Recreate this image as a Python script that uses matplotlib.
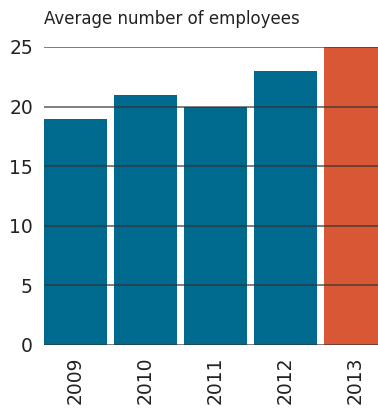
import matplotlib.pyplot as plt

years = ["2009", "2010", "2011", "2012", "2013"]
employees = [19, 21, 20, 23, 25]
colors = ["#006a8e", "#006a8e", "#006a8e", "#006a8e", "#d85735"]
yticks = [0, 5, 10, 15, 20, 25]

fig = plt.figure(figsize=(3.78, 4.08), dpi=100)
ax = fig.add_axes([44/378, 1 - 345/408, 1 - 44/378, (345 - 47)/408])

x = list(range(len(years)))
ax.bar(x, employees, width=0.9, color=colors, zorder=1)

# gridlines sit on top of the bars
for v in yticks:
    ax.axhline(v, color="#333333", lw=1.1, alpha=0.8, zorder=3)

ax.set_xlim(-0.45, 4.32)
ax.set_ylim(0, 25)
ax.set_yticks(yticks)
ax.set_yticklabels([str(v) for v in yticks], fontsize=13.5, color="#222222")
ax.set_xticks(x)
ax.set_xticklabels(years, rotation=90, fontsize=13.5, color="#222222")
ax.tick_params(length=0, pad=8)
ax.tick_params(axis="y", pad=8)
for s in ax.spines.values():
    s.set_visible(False)

fig.text(44/378, 1 - 19/408, "Average number of employees", fontsize=12,
         color="#222222", va="center", ha="left")

fig.savefig("out.png", dpi=100)
